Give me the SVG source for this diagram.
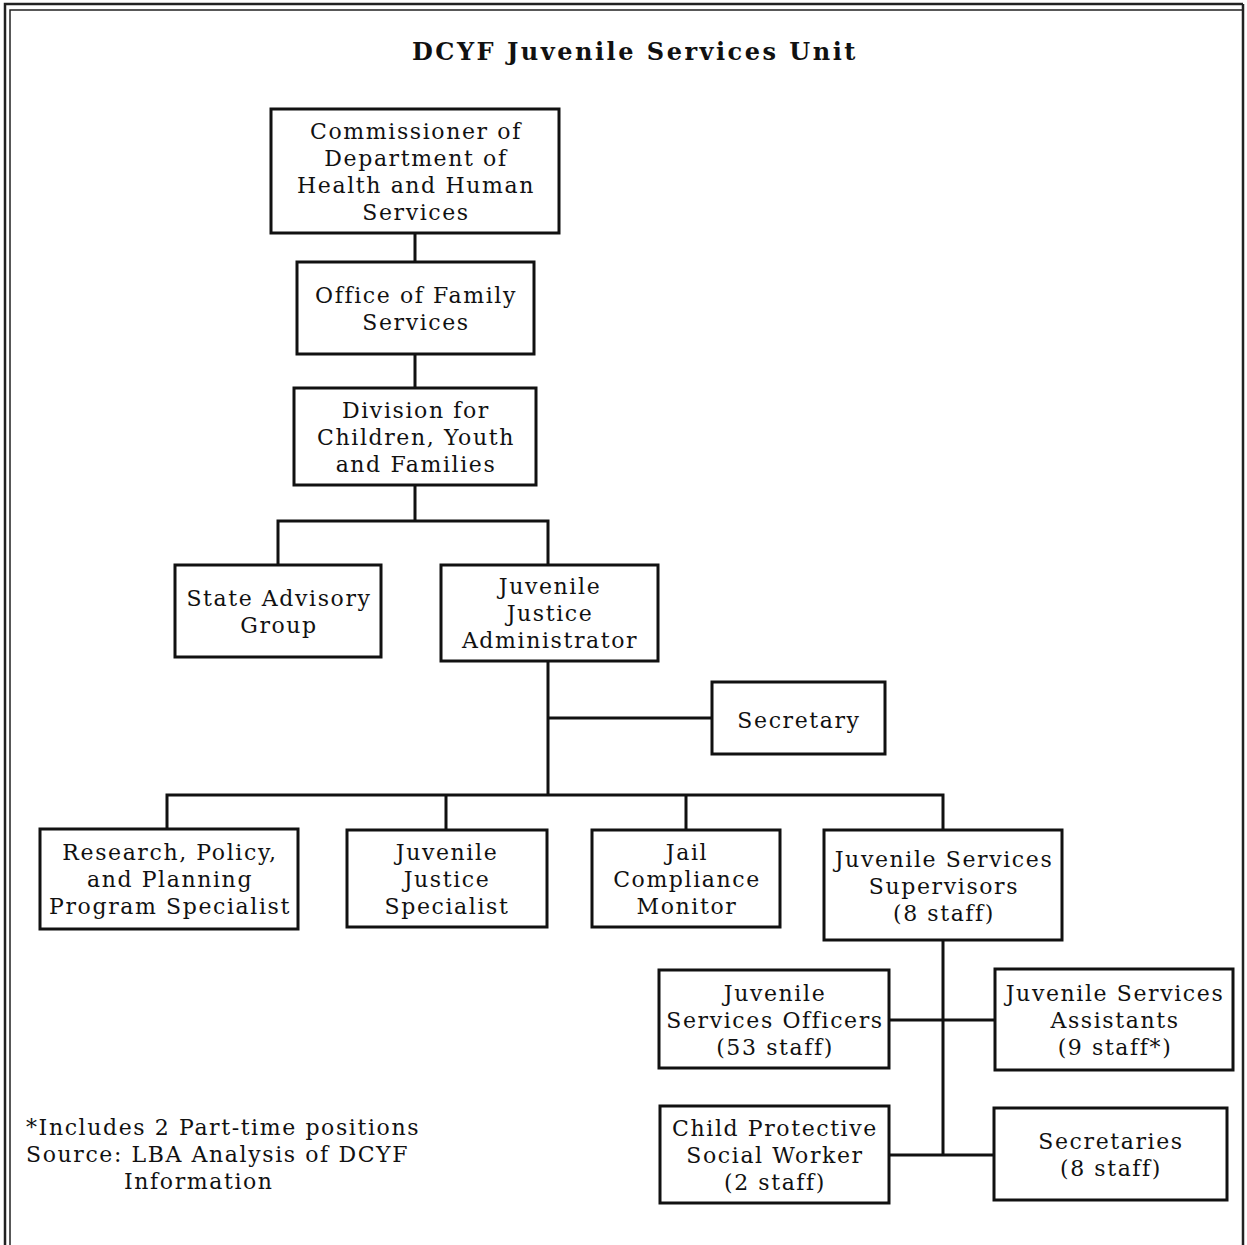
<svg xmlns="http://www.w3.org/2000/svg" width="1247" height="1245" viewBox="0 0 1247 1245">
<style>
.bx{fill:#fff;stroke:#111;stroke-width:3}
.t{font-family:"DejaVu Serif","Liberation Serif",serif;font-size:22px;letter-spacing:1.6px;fill:#111;text-anchor:middle}
.fn{font-family:"DejaVu Serif","Liberation Serif",serif;font-size:22px;letter-spacing:1.6px;fill:#111}
.title{font-family:"DejaVu Serif","Liberation Serif",serif;font-size:24px;font-weight:bold;letter-spacing:2.5px;fill:#111;text-anchor:middle}
.c{stroke:#111;stroke-width:3;fill:none}
.fr{stroke:#222;fill:none}
</style>
<rect x="0" y="0" width="1247" height="1245" fill="#fff"/>
<g id="frame">
<path class="fr" stroke-width="2.5" d="M5,1245 V4 H1243"/>
<path class="fr" stroke-width="1.5" d="M10,1245 V10 H1243"/>
<path class="fr" stroke-width="2.5" d="M1243,4 V1245"/>
</g>
<text class="title" x="635" y="60">DCYF Juvenile Services Unit</text>
<g id="connectors">
<path class="c" d="M415,233 V262 M415,354 V388 M415,485 V521"/>
<path class="c" d="M278,565 V521 H548 V565"/>
<path class="c" d="M548,661 V795 M548,718 H712"/>
<path class="c" d="M167,829 V795 H943 V830 M446,795 V830 M686,795 V830"/>
<path class="c" d="M943,940 V1155 M889,1020 H995 M889,1155 H995"/>
</g>
<g id="commissioner"><rect class="bx" x="271" y="109" width="288" height="124"/>
<text class="t" x="416" y="139">Commissioner of</text><text class="t" x="416" y="166">Department of</text><text class="t" x="416" y="193">Health and Human</text><text class="t" x="416" y="220">Services</text></g>
<g id="office"><rect class="bx" x="297" y="262" width="237" height="92"/>
<text class="t" x="416" y="303">Office of Family</text><text class="t" x="416" y="330">Services</text></g>
<g id="division"><rect class="bx" x="294" y="388" width="242" height="97"/>
<text class="t" x="416" y="418">Division for</text><text class="t" x="416" y="445">Children, Youth</text><text class="t" x="416" y="472">and Families</text></g>
<g id="state-advisory"><rect class="bx" x="175" y="565" width="206" height="92"/>
<text class="t" x="279" y="606">State Advisory</text><text class="t" x="279" y="633">Group</text></g>
<g id="jj-admin"><rect class="bx" x="441" y="565" width="217" height="96"/>
<text class="t" x="550" y="594">Juvenile</text><text class="t" x="550" y="621">Justice</text><text class="t" x="550" y="648">Administrator</text></g>
<g id="secretary"><rect class="bx" x="712" y="682" width="173" height="72"/>
<text class="t" x="799" y="728">Secretary</text></g>
<g id="research"><rect class="bx" x="40" y="829" width="258" height="100"/>
<text class="t" x="170" y="860">Research, Policy,</text><text class="t" x="170" y="887">and Planning</text><text class="t" x="170" y="914">Program Specialist</text></g>
<g id="jj-specialist"><rect class="bx" x="347" y="830" width="200" height="97"/>
<text class="t" x="447" y="860">Juvenile</text><text class="t" x="447" y="887">Justice</text><text class="t" x="447" y="914">Specialist</text></g>
<g id="jail"><rect class="bx" x="592" y="830" width="188" height="97"/>
<text class="t" x="687" y="860">Jail</text><text class="t" x="687" y="887">Compliance</text><text class="t" x="687" y="914">Monitor</text></g>
<g id="js-supervisors"><rect class="bx" x="824" y="830" width="238" height="110"/>
<text class="t" x="944" y="867">Juvenile Services</text><text class="t" x="944" y="894">Supervisors</text><text class="t" x="944" y="921">(8 staff)</text></g>
<g id="js-officers"><rect class="bx" x="659" y="970" width="230" height="98"/>
<text class="t" x="775" y="1001">Juvenile</text><text class="t" x="775" y="1028">Services Officers</text><text class="t" x="775" y="1055">(53 staff)</text></g>
<g id="js-assistants"><rect class="bx" x="995" y="969" width="238" height="101"/>
<text class="t" x="1115" y="1001">Juvenile Services</text><text class="t" x="1115" y="1028">Assistants</text><text class="t" x="1115" y="1055">(9 staff*)</text></g>
<g id="child-protective"><rect class="bx" x="660" y="1106" width="229" height="97"/>
<text class="t" x="775" y="1136">Child Protective</text><text class="t" x="775" y="1163">Social Worker</text><text class="t" x="775" y="1190">(2 staff)</text></g>
<g id="secretaries"><rect class="bx" x="994" y="1108" width="233" height="92"/>
<text class="t" x="1111" y="1149">Secretaries</text><text class="t" x="1111" y="1176">(8 staff)</text></g>
<g id="footnote">
<text class="fn" x="26" y="1135">*Includes 2 Part-time positions</text>
<text class="fn" x="26" y="1162">Source: LBA Analysis of DCYF</text>
<text class="fn" x="124" y="1189">Information</text>
</g>
</svg>
